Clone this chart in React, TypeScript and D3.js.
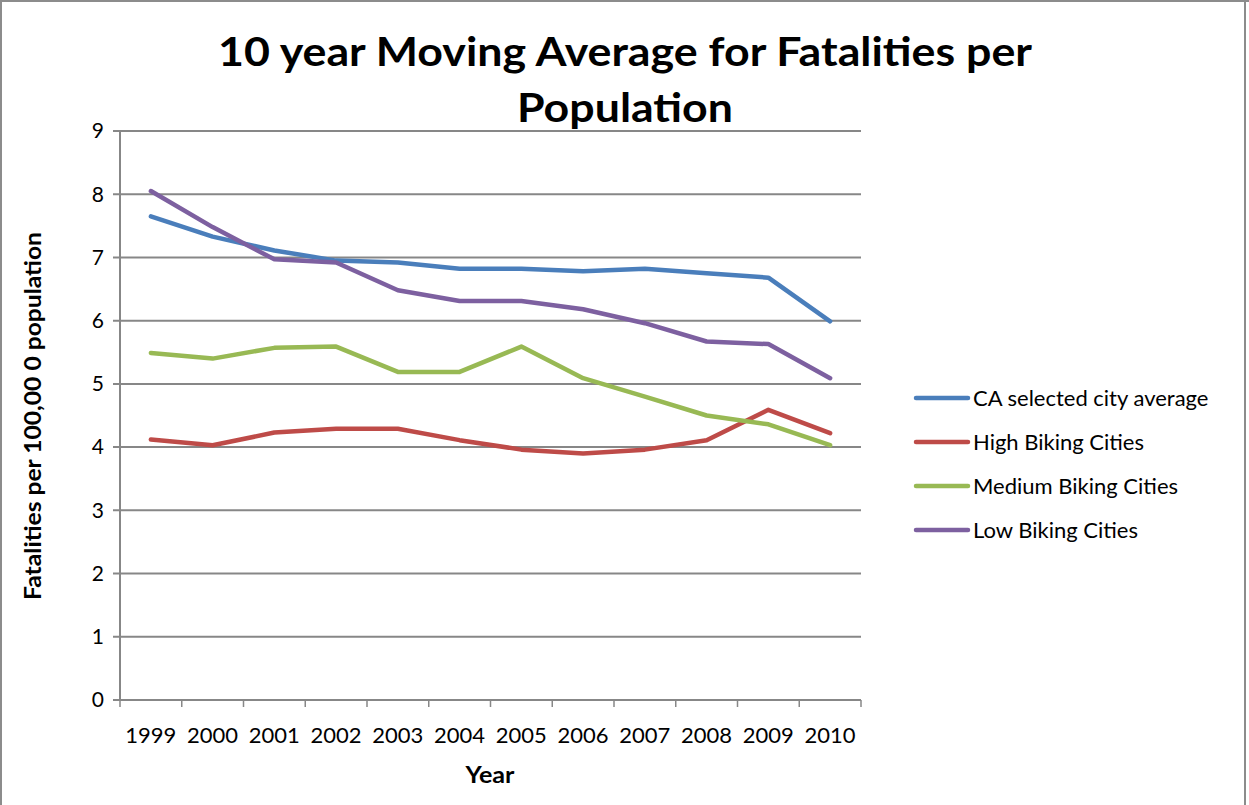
import React from "react";
import * as d3 from "d3";

const years = ["1999", "2000", "2001", "2002", "2003", "2004", "2005", "2006", "2007", "2008", "2009", "2010"];
const caAverage = [7.65, 7.33, 7.11, 6.95, 6.92, 6.82, 6.82, 6.78, 6.82, 6.75, 6.68, 5.99];
const highBiking = [4.12, 4.03, 4.23, 4.29, 4.29, 4.11, 3.96, 3.9, 3.96, 4.11, 4.59, 4.22];
const mediumBiking = [5.49, 5.4, 5.57, 5.59, 5.19, 5.19, 5.59, 5.09, 4.8, 4.5, 4.36, 4.03];
const lowBiking = [8.05, 7.48, 6.97, 6.92, 6.48, 6.31, 6.31, 6.18, 5.96, 5.67, 5.63, 5.09];
const seriesNames = ["CA selected city average", "High Biking Cities", "Medium Biking Cities", "Low Biking Cities"];
const seriesColors = ["#4a7ebb", "#be4b48", "#98b954", "#7d60a0"];
const yTicks = [0, 1, 2, 3, 4, 5, 6, 7, 8, 9];

const W = 1249;
const H = 805;
const FONT = "Lato, 'Open Sans', sans-serif";

export default function App() {
  const plot = { left: 120, right: 861, top: 131, bottom: 700 };
  const x = d3.scaleBand<string>().domain(years).range([plot.left, plot.right]);
  const y = d3.scaleLinear().domain([0, 9]).range([plot.bottom, plot.top]);
  const all = [caAverage, highBiking, mediumBiking, lowBiking];
  const line = d3
    .line<number>()
    .x((_, i) => (x(years[i]) as number) + x.bandwidth() / 2)
    .y((d) => y(d));

  const gridColor = "#878787";
  const legendY0 = 398;
  const legendStep = 44;

  return (
    <svg
      width={W}
      height={H}
      style={{ position: "absolute", left: 0, top: 0, background: "#fff" }}
      fontFamily={FONT}
    >
      <rect x={0} y={0} width={W} height={H} fill="#fff" />
      {/* chart frame */}
      <line x1={1} y1={0} x2={1} y2={H} stroke="#8c8c8c" strokeWidth={2} />
      <line x1={0} y1={1} x2={W} y2={1} stroke="#8c8c8c" strokeWidth={2} />
      <line x1={1245} y1={0} x2={1245} y2={H} stroke="#8c8c8c" strokeWidth={2} />

      {/* title */}
      <text x={625} y={66} textAnchor="middle" fontSize={40} fontWeight="bold" fill="#000"
        textLength={814} lengthAdjust="spacingAndGlyphs">
        10 year Moving Average for Fatalities per
      </text>
      <text x={625} y={122} textAnchor="middle" fontSize={40} fontWeight="bold" fill="#000"
        textLength={216} lengthAdjust="spacingAndGlyphs">
        Population
      </text>

      {/* horizontal gridlines and y ticks */}
      {yTicks.map((t) => (
        <g key={t}>
          <line x1={plot.left - 7} x2={plot.right} y1={y(t)} y2={y(t)} stroke={gridColor} strokeWidth={2} />
          <text x={104} y={y(t)} dy="0.35em" textAnchor="end" fontSize={21} fill="#000">
            {t}
          </text>
        </g>
      ))}

      {/* y axis */}
      <line x1={plot.left} x2={plot.left} y1={plot.top} y2={plot.bottom} stroke={gridColor} strokeWidth={2} />

      {/* x ticks */}
      {years.map((yr) => (
        <line key={yr} x1={x(yr) as number} x2={x(yr) as number} y1={plot.bottom} y2={plot.bottom + 7}
          stroke={gridColor} strokeWidth={1.5} />
      ))}
      <line x1={plot.right} x2={plot.right} y1={plot.bottom} y2={plot.bottom + 7} stroke={gridColor} strokeWidth={1.5} />
      {years.map((yr) => (
        <text key={yr} x={(x(yr) as number) + x.bandwidth() / 2} y={735} dy="0.35em" textAnchor="middle"
          fontSize={22} fill="#000">
          {yr}
        </text>
      ))}

      {/* axis titles */}
      <text x={490} y={775} dy="0.35em" textAnchor="middle" fontSize={22} fontWeight="bold" fill="#000"
        textLength={49} lengthAdjust="spacingAndGlyphs">
        Year
      </text>
      <text transform={`translate(33,${416}) rotate(-90)`} dy="0.35em" textAnchor="middle" fontSize={22}
        fontWeight="bold" fill="#000" textLength={368} lengthAdjust="spacingAndGlyphs">
        Fatalities per 100,00 0 population
      </text>

      {/* series */}
      {all.map((vals, s) => (
        <path key={s} d={line(vals) as string} fill="none" stroke={seriesColors[s]} strokeWidth={4.5}
          strokeLinejoin="round" strokeLinecap="round" />
      ))}

      {/* legend */}
      {seriesNames.map((name, s) => (
        <g key={name}>
          <line x1={916} x2={968} y1={legendY0 + s * legendStep} y2={legendY0 + s * legendStep}
            stroke={seriesColors[s]} strokeWidth={4.5} strokeLinecap="round" />
          <text x={973} y={legendY0 + s * legendStep} dy="0.35em" fontSize={22} fill="#000">
            {name}
          </text>
        </g>
      ))}
    </svg>
  );
}
